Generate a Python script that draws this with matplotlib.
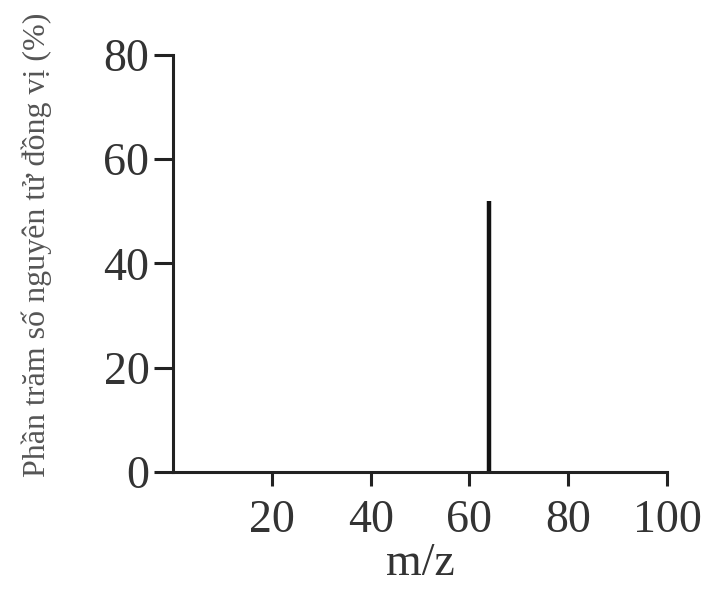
import matplotlib.pyplot as plt

# isotope peak(s): m/z and percent abundance
mz = [64]
abundance = [52]

x_ticks = [20, 40, 60, 80, 100]
y_ticks = [0, 20, 40, 60, 80]

plt.rcParams['font.family'] = ['Liberation Serif', 'DejaVu Serif']

fig = plt.figure(figsize=(7.15, 5.9), dpi=100)
ax = fig.add_axes([0.242, 0.2, 0.691, 0.707])

ax.vlines(mz, 0, abundance, color='#111111', linewidth=3.2)

ax.set_xlim(0, 100)
ax.set_ylim(0, 80)
ax.set_xticks(x_ticks)
ax.set_yticks(y_ticks)

for side in ['top', 'right']:
    ax.spines[side].set_visible(False)
for side in ['left', 'bottom']:
    ax.spines[side].set_linewidth(2.2)
    ax.spines[side].set_color('#222222')
    ax.spines[side].set_capstyle('projecting')

ax.tick_params(axis='both', direction='out', width=2.2, color='#222222',
               labelsize=33, labelcolor='#333333')
ax.tick_params(axis='y', length=14, pad=3)
ax.tick_params(axis='x', length=10, pad=10)

ax.set_xlabel('m/z', fontsize=33, color='#333333', labelpad=0)
ax.set_ylabel('Phần trăm số nguyên tử đồng vị (%)', fontsize=23, color='#555555')
ax.yaxis.set_label_coords(-0.245, 0.545)

fig.savefig('out.png', dpi=100, facecolor='white')
